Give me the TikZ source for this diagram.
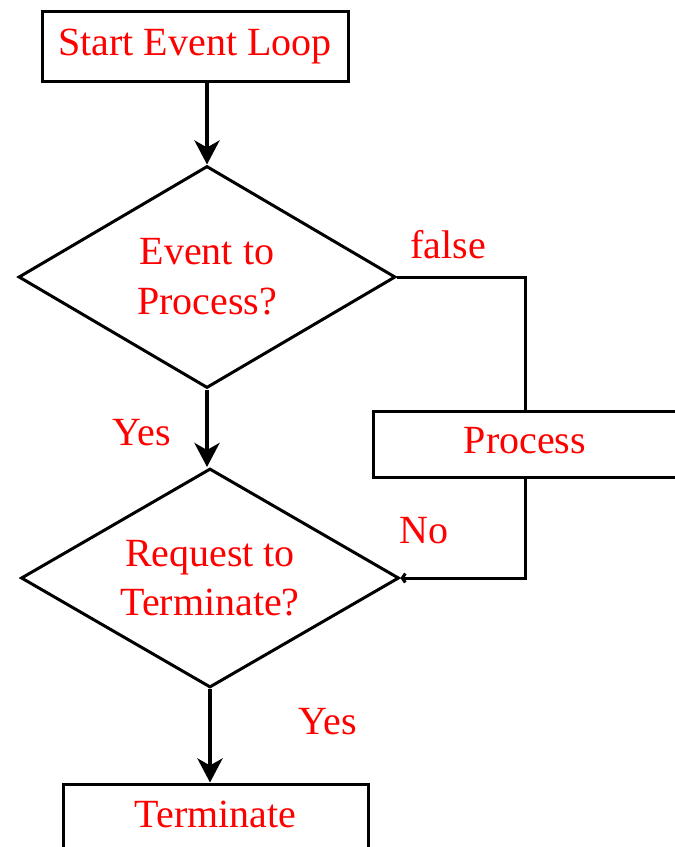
\documentclass[tikz,border=0pt]{standalone}
\usepackage{fontspec}
\setmainfont{Liberation Serif}
\usetikzlibrary{shapes.geometric,arrows.meta}

\begin{document}
\begin{tikzpicture}[
  x=1pt, y=-1pt,
  every node/.style={font=\fontsize{40}{50}\selectfont, text=red, inner sep=0pt},
  stepbox/.style={draw, line width=3pt, rectangle, text height=28pt, text depth=9pt},
  decision/.style={draw, line width=3pt, diamond, aspect=1.7, align=center},
  label/.style={anchor=base},
  flow/.style={line width=4.5pt, -{Stealth[length=24pt,width=25pt,inset=7pt]}},
  link/.style={line width=3pt},
]
  \path[use as bounding box] (0,0) rectangle (675,847);
  \clip (0,0) rectangle (675,847);

  % process steps
  \node[stepbox, minimum width=306pt, minimum height=70pt] (start) at (195,46) {Start Event Loop};
  \node[stepbox, minimum width=304pt, minimum height=66pt] (proc) at (525,444) {Process};
  \node[stepbox, minimum width=305pt, minimum height=67pt] (term) at (215.5,817.5) {Terminate};

  % decisions
  \node[decision, minimum width=377pt, minimum height=222pt] (evt) at (207,277) {Event to\\Process?};
  \node[decision, minimum width=378pt, minimum height=219pt,
        font=\fontsize{40}{49}\selectfont] (req) at (210,578) {Request to\\Terminate?};

  % main flow
  \draw[flow] (evt.north |- start.south) -- (evt.north);
  \draw[flow] (evt.south) -- (evt.south |- req.north);
  \draw[flow] (req.south) -- (req.south |- term.north);

  % side branch
  \draw[link] (evt.east) -| (proc.north);
  \draw[link, -{Straight Barb[length=3pt,width=9pt]}] (proc.south) |- (req.east);

  % branch labels
  \node[label] (lfalse) at (448,258) {false};
  \node[label] (lyes1) at (142,445) {Yes};
  \node[label] (lno) at (424,543) {No};
  \node[label] (lyes2) at (328,734) {Yes};
\end{tikzpicture}
\end{document}
